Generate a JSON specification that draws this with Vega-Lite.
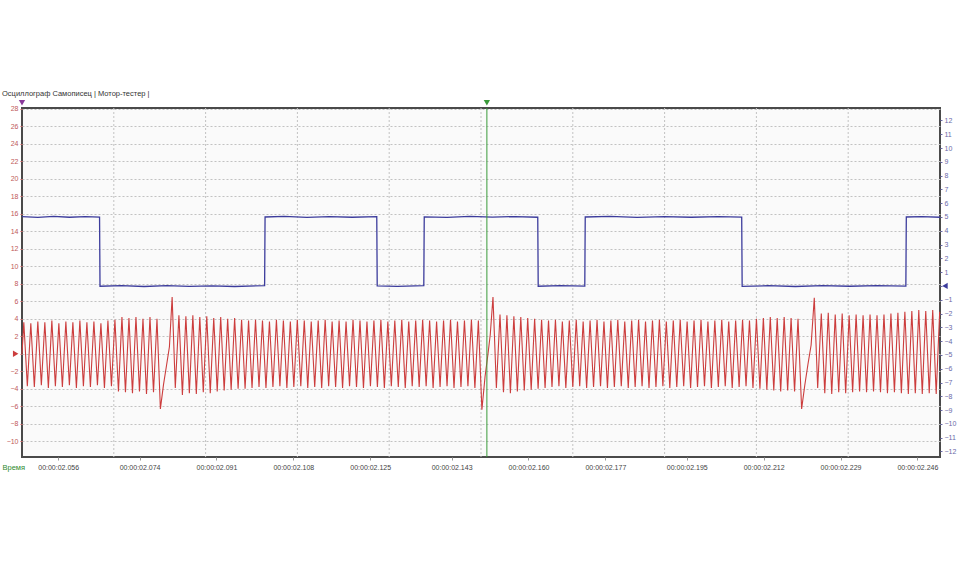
{
"$schema": "https://vega.github.io/schema/vega-lite/v6.json",
"width": 918, "height": 349,
"autosize": "none",
"padding": {"left": 22, "top": 108, "right": 20, "bottom": 125},
"background": "#ffffff",
"config": {"view": {"fill": "#fafafa", "stroke": "#4a4a4a", "strokeWidth": 2}, "font": "Liberation Sans"},
"title": {"text": "Осциллограф   Самописец | Мотор-тестер |", "anchor": "start", "frame": "group", "dx": -20, "offset": 3, "fontSize": 7.5, "fontWeight": "normal", "color": "#333333"},
"datasets": {
"vgrid": [{"t":2068.3},{"t":2088.6},{"t":2108.9},{"t":2129.2},{"t":2149.5},{"t":2169.8},{"t":2190.1},{"t":2210.4},{"t":2230.7}],
"cursor": [{"t":2150.8}],
"redmarks": [{"t":2048.0,"v":28.7,"kind":"start"},{"t":2150.8,"v":28.7,"kind":"cursor"},{"t":2046.6,"v":0,"kind":"channel"}],
"bluemarks": [{"t":2252.1,"v":0,"kind":"channel"}],
"red": [
{"t":2048.0,"v":0.0},{"t":2048.40,"v":3.6},{"t":2049.18,"v":-3.7},{"t":2049.95,"v":3.5},{"t":2050.73,"v":-3.8},{"t":2051.50,"v":3.7},{"t":2052.28,"v":-3.6},{"t":2053.05,"v":3.6},{"t":2053.83,"v":-3.9},{"t":2054.60,"v":3.8},{"t":2055.38,"v":-3.7},{"t":2056.15,"v":3.5},{"t":2056.93,"v":-3.8},{"t":2057.70,"v":3.7},{"t":2058.48,"v":-3.6},{"t":2059.25,"v":3.6},{"t":2060.03,"v":-3.9},{"t":2060.80,"v":3.8},{"t":2061.58,"v":-3.7},{"t":2062.35,"v":3.6},{"t":2063.13,"v":-3.8},{"t":2063.90,"v":3.7},{"t":2064.68,"v":-3.6},{"t":2065.45,"v":3.5},{"t":2066.23,"v":-3.9},{"t":2067.00,"v":3.8},{"t":2067.78,"v":-3.7},{"t":2068.55,"v":3.9},{"t":2069.33,"v":-4.3},{"t":2070.10,"v":4.2},{"t":2070.88,"v":-4.4},{"t":2071.65,"v":4.1},{"t":2072.43,"v":-4.5},{"t":2073.20,"v":4.2},{"t":2073.98,"v":-4.3},{"t":2074.75,"v":4.0},{"t":2075.53,"v":-4.6},{"t":2076.30,"v":4.2},{"t":2077.08,"v":-4.4},{"t":2077.85,"v":4.0},
{"t":2078.60,"v":-6.3},{"t":2079.30,"v":-3.5},{"t":2080.00,"v":-1.2},{"t":2080.60,"v":0.8},{"t":2081.20,"v":6.5},{"t":2081.90,"v":-3.9},
{"t":2082.70,"v":4.4},{"t":2083.47,"v":-4.7},{"t":2084.24,"v":4.3},{"t":2085.01,"v":-4.5},{"t":2085.78,"v":4.4},{"t":2086.55,"v":-4.6},{"t":2087.32,"v":4.2},{"t":2088.09,"v":-4.4},{"t":2088.86,"v":4.3},{"t":2089.63,"v":-4.5},{"t":2090.40,"v":4.1},{"t":2091.17,"v":-4.3},{"t":2091.94,"v":4.2},{"t":2092.71,"v":-4.2},{"t":2093.48,"v":4.0},{"t":2094.25,"v":-4.1},{"t":2095.02,"v":4.1},{"t":2095.79,"v":-4.0},{"t":2096.56,"v":3.9},{"t":2097.33,"v":-4.0},{"t":2098.10,"v":3.8},{"t":2098.87,"v":-3.9},{"t":2099.64,"v":3.9},{"t":2100.41,"v":-3.8},{"t":2101.18,"v":3.8},{"t":2101.95,"v":-3.9},{"t":2102.72,"v":3.7},{"t":2103.49,"v":-3.8},{"t":2104.26,"v":3.9},{"t":2105.03,"v":-3.7},{"t":2105.80,"v":3.8},{"t":2106.57,"v":-3.9},{"t":2107.34,"v":3.7},{"t":2108.11,"v":-3.8},{"t":2108.88,"v":3.9},{"t":2109.65,"v":-3.7},{"t":2110.42,"v":3.8},{"t":2111.19,"v":-3.9},{"t":2111.96,"v":3.7},{"t":2112.73,"v":-3.8},{"t":2113.50,"v":3.8},{"t":2114.27,"v":-3.9},{"t":2115.04,"v":3.9},{"t":2115.81,"v":-3.7},{"t":2116.58,"v":3.7},{"t":2117.35,"v":-3.8},{"t":2118.12,"v":3.8},{"t":2118.89,"v":-3.9},{"t":2119.66,"v":3.7},{"t":2120.43,"v":-3.7},{"t":2121.20,"v":3.9},{"t":2121.97,"v":-3.8},{"t":2122.74,"v":3.8},{"t":2123.51,"v":-3.9},{"t":2124.28,"v":3.7},{"t":2125.05,"v":-3.7},{"t":2125.82,"v":3.8},{"t":2126.59,"v":-3.8},{"t":2127.36,"v":3.9},{"t":2128.13,"v":-3.9},{"t":2128.90,"v":3.7},{"t":2129.67,"v":-3.7},{"t":2130.44,"v":3.8},{"t":2131.21,"v":-3.8},{"t":2131.98,"v":3.9},{"t":2132.75,"v":-3.9},{"t":2133.52,"v":3.7},{"t":2134.29,"v":-3.7},{"t":2135.06,"v":3.8},{"t":2135.83,"v":-3.8},{"t":2136.60,"v":3.9},{"t":2137.37,"v":-3.7},{"t":2138.14,"v":3.8},{"t":2138.91,"v":-3.9},{"t":2139.68,"v":3.7},{"t":2140.45,"v":-3.8},{"t":2141.22,"v":3.8},{"t":2141.99,"v":-3.7},{"t":2142.76,"v":3.9},{"t":2143.53,"v":-3.9},{"t":2144.30,"v":3.7},{"t":2145.07,"v":-3.8},{"t":2145.84,"v":3.8},{"t":2146.61,"v":-3.7},{"t":2147.38,"v":3.9},{"t":2148.15,"v":-3.9},{"t":2148.92,"v":3.8},
{"t":2149.70,"v":-6.4},{"t":2150.40,"v":-2.6},{"t":2151.05,"v":0.0},{"t":2151.55,"v":2.2},{"t":2152.15,"v":6.5},{"t":2152.90,"v":-3.9},
{"t":2153.70,"v":4.5},{"t":2154.47,"v":-4.4},{"t":2155.23,"v":4.4},{"t":2156.00,"v":-4.5},{"t":2156.77,"v":4.3},{"t":2157.54,"v":-4.3},{"t":2158.30,"v":4.2},{"t":2159.07,"v":-4.2},{"t":2159.83,"v":4.1},{"t":2160.60,"v":-4.1},{"t":2161.36,"v":4.0},{"t":2162.13,"v":-4.0},{"t":2162.90,"v":3.9},{"t":2163.67,"v":-3.9},{"t":2164.43,"v":3.8},{"t":2165.20,"v":-3.8},{"t":2165.96,"v":3.9},{"t":2166.73,"v":-3.7},{"t":2167.49,"v":3.7},{"t":2168.26,"v":-3.9},{"t":2169.03,"v":3.8},{"t":2169.80,"v":-3.8},{"t":2170.56,"v":3.9},{"t":2171.33,"v":-3.7},{"t":2172.09,"v":3.7},{"t":2172.86,"v":-3.9},{"t":2173.62,"v":3.8},{"t":2174.39,"v":-3.8},{"t":2175.16,"v":3.9},{"t":2175.93,"v":-3.7},{"t":2176.69,"v":3.7},{"t":2177.46,"v":-3.9},{"t":2178.22,"v":3.8},{"t":2178.99,"v":-3.8},{"t":2179.75,"v":3.9},{"t":2180.52,"v":-3.7},{"t":2181.29,"v":3.7},{"t":2182.06,"v":-3.9},{"t":2182.82,"v":3.8},{"t":2183.59,"v":-3.8},{"t":2184.35,"v":3.9},{"t":2185.12,"v":-3.7},{"t":2185.88,"v":3.7},{"t":2186.65,"v":-3.9},{"t":2187.42,"v":3.8},{"t":2188.19,"v":-3.8},{"t":2188.95,"v":3.9},{"t":2189.72,"v":-3.7},{"t":2190.48,"v":3.7},{"t":2191.25,"v":-3.9},{"t":2192.02,"v":3.8},{"t":2192.79,"v":-3.8},{"t":2193.55,"v":3.9},{"t":2194.32,"v":-3.7},{"t":2195.08,"v":3.7},{"t":2195.85,"v":-3.9},{"t":2196.61,"v":3.8},{"t":2197.38,"v":-3.8},{"t":2198.15,"v":3.9},{"t":2198.92,"v":-3.7},{"t":2199.68,"v":3.7},{"t":2200.45,"v":-3.9},{"t":2201.21,"v":3.8},{"t":2201.98,"v":-3.8},{"t":2202.74,"v":3.9},{"t":2203.51,"v":-3.7},{"t":2204.28,"v":3.7},{"t":2205.05,"v":-3.9},{"t":2205.81,"v":3.8},{"t":2206.58,"v":-3.8},{"t":2207.34,"v":3.9},{"t":2208.11,"v":-3.7},{"t":2208.87,"v":3.8},{"t":2209.64,"v":-3.9},{"t":2210.41,"v":4.0},{"t":2211.18,"v":-4.0},{"t":2211.94,"v":4.1},{"t":2212.71,"v":-4.1},{"t":2213.47,"v":4.2},{"t":2214.24,"v":-4.2},{"t":2215.00,"v":4.1},{"t":2215.77,"v":-4.3},{"t":2216.54,"v":4.2},{"t":2217.31,"v":-4.2},{"t":2218.07,"v":4.1},{"t":2218.84,"v":-4.3},{"t":2219.60,"v":4.0},
{"t":2220.40,"v":-6.3},{"t":2221.10,"v":-3.6},{"t":2221.80,"v":-1.2},{"t":2222.50,"v":1.0},{"t":2223.20,"v":6.4},{"t":2223.95,"v":-3.9},
{"t":2224.75,"v":4.6},{"t":2225.52,"v":-4.5},{"t":2226.29,"v":4.7},{"t":2227.06,"v":-4.6},{"t":2227.83,"v":4.5},{"t":2228.60,"v":-4.4},{"t":2229.37,"v":4.6},{"t":2230.14,"v":-4.5},{"t":2230.91,"v":4.4},{"t":2231.68,"v":-4.4},{"t":2232.45,"v":4.5},{"t":2233.22,"v":-4.3},{"t":2233.99,"v":4.4},{"t":2234.76,"v":-4.4},{"t":2235.53,"v":4.5},{"t":2236.30,"v":-4.3},{"t":2237.07,"v":4.4},{"t":2237.84,"v":-4.4},{"t":2238.61,"v":4.5},{"t":2239.38,"v":-4.5},{"t":2240.15,"v":4.6},{"t":2240.92,"v":-4.4},{"t":2241.69,"v":4.7},{"t":2242.46,"v":-4.5},{"t":2243.23,"v":4.8},{"t":2244.00,"v":-4.6},{"t":2244.77,"v":4.9},{"t":2245.54,"v":-4.5},{"t":2246.31,"v":5.0},{"t":2247.08,"v":-4.6},{"t":2247.85,"v":4.9},{"t":2248.62,"v":-4.5},{"t":2249.39,"v":5.0},{"t":2250.16,"v":-4.6},{"t":2250.93,"v":4.8}
],
"blue": [
{"t":2048.0,"v":5.02},{"t":2051.5,"v":4.97},{"t":2055.0,"v":5.04},{"t":2058.5,"v":4.98},{"t":2062.0,"v":5.03},{"t":2065.15,"v":4.99},
{"t":2065.25,"v":-0.02},{"t":2070.0,"v":0.03},{"t":2075.0,"v":-0.04},{"t":2080.0,"v":0.02},{"t":2085.0,"v":-0.03},{"t":2090.0,"v":0.01},{"t":2095.0,"v":-0.04},{"t":2101.65,"v":0.02},
{"t":2101.75,"v":5.0},{"t":2106.0,"v":5.04},{"t":2111.0,"v":4.97},{"t":2116.0,"v":5.03},{"t":2121.0,"v":4.98},{"t":2126.45,"v":5.02},
{"t":2126.55,"v":0.0},{"t":2131.0,"v":-0.03},{"t":2136.85,"v":0.02},
{"t":2136.95,"v":5.01},{"t":2142.0,"v":4.97},{"t":2147.0,"v":5.04},{"t":2152.0,"v":4.99},{"t":2157.0,"v":5.03},{"t":2162.05,"v":4.98},
{"t":2162.15,"v":-0.02},{"t":2167.0,"v":0.03},{"t":2172.45,"v":-0.01},
{"t":2172.55,"v":5.0},{"t":2178.0,"v":5.04},{"t":2184.0,"v":4.97},{"t":2190.0,"v":5.03},{"t":2196.0,"v":4.98},{"t":2202.0,"v":5.02},{"t":2207.15,"v":4.99},
{"t":2207.25,"v":-0.03},{"t":2213.0,"v":0.02},{"t":2219.0,"v":-0.04},{"t":2225.0,"v":0.03},{"t":2231.0,"v":-0.02},{"t":2237.0,"v":0.02},{"t":2243.45,"v":-0.01},
{"t":2243.55,"v":5.0},{"t":2247.0,"v":5.03},{"t":2251.0,"v":4.98}
]
},
"layer": [
{
"data": {"name": "vgrid"},
"mark": {"type": "rule", "color": "#c2c2c2", "strokeDash": [2, 2], "strokeWidth": 1},
"encoding": {
"x": {"field": "t", "type": "quantitative",
"scale": {"domain": [2048, 2251], "nice": false, "zero": false},
"axis": {"values": [2056, 2074, 2091, 2108, 2125, 2143, 2160, 2177, 2195, 2212, 2229, 2246], "tickCount": 100,
"labelExpr": "'00:00:0' + format(datum.value/1000, '.3f')",
"grid": false, "domain": false, "ticks": true, "tickSize": 3, "tickColor": "#999999",
"labelFontSize": 7, "labelColor": "#444444", "labelPadding": 3, "labelFlush": false, "labelOverlap": false,
"title": "Время", "titleColor": "#2e8b2e", "titleFontSize": 7.5, "titleFontWeight": "normal",
"titleAnchor": "start", "titleAlign": "left", "titleBaseline": "middle", "titleX": -20, "titleY": 10}}
}
},
{
"layer": [
{
"data": {"name": "red"},
"mark": {"type": "line", "color": "#cc3d3d", "strokeWidth": 1.1},
"encoding": {
"x": {"field": "t", "type": "quantitative"},
"y": {"field": "v", "type": "quantitative",
"scale": {"domain": [-11.8, 28.1], "nice": false, "zero": false},
"axis": {"orient": "left", "values": [28, 26, 24, 22, 20, 18, 16, 14, 12, 10, 8, 6, 4, 2, 0, -2, -4, -6, -8, -10], "tickCount": 100,
"labelExpr": "datum.value == 0 ? '' : format(datum.value, 'd')",
"grid": true, "gridDash": [2, 2], "gridColor": "#c2c2c2", "domain": false, "tickSize": 2, "tickColor": "#c06060",
"labelFontSize": 7, "labelColor": "#c05a5a", "labelPadding": 2, "labelFlush": false, "labelOverlap": false, "title": null}}
}
},
{
"data": {"name": "redmarks"},
"mark": {"type": "point", "filled": true, "size": 40, "opacity": 1, "clip": false},
"encoding": {
"x": {"field": "t", "type": "quantitative"},
"y": {"field": "v", "type": "quantitative"},
"color": {"field": "kind", "type": "nominal", "legend": null, "scale": {"domain": ["start", "cursor", "channel"], "range": ["#8a3a9a", "#3a9a3a", "#cc3d3d"]}},
"shape": {"field": "kind", "type": "nominal", "legend": null, "scale": {"domain": ["start", "cursor", "channel"], "range": ["triangle-down", "triangle-down", "triangle-right"]}}
}
}
]
},
{
"layer": [
{
"data": {"name": "blue"},
"mark": {"type": "line", "color": "#3c3c9c", "strokeWidth": 1.3},
"encoding": {
"x": {"field": "t", "type": "quantitative"},
"y": {"field": "v", "type": "quantitative",
"scale": {"domain": [-12.4, 12.9], "nice": false, "zero": false},
"axis": {"orient": "right", "values": [12, 11, 10, 9, 8, 7, 6, 5, 4, 3, 2, 1, 0, -1, -2, -3, -4, -5, -6, -7, -8, -9, -10, -11, -12], "tickCount": 100,
"labelExpr": "datum.value == 0 ? '' : format(datum.value, 'd')",
"grid": false, "domain": false, "tickSize": 2, "tickColor": "#6a6aa8",
"labelFontSize": 7, "labelColor": "#6a6aa8", "labelPadding": 2, "labelFlush": false, "labelOverlap": false, "title": null}}
}
},
{
"data": {"name": "bluemarks"},
"mark": {"type": "point", "filled": true, "size": 40, "opacity": 1, "shape": "triangle-left", "color": "#3c3c9c", "clip": false},
"encoding": {
"x": {"field": "t", "type": "quantitative"},
"y": {"field": "v", "type": "quantitative"}
}
}
]
},
{
"data": {"name": "cursor"},
"mark": {"type": "rule", "color": "#3a9a3a", "strokeWidth": 1},
"encoding": {"x": {"field": "t", "type": "quantitative"}}
}
],
"resolve": {"scale": {"y": "independent"}}
}
